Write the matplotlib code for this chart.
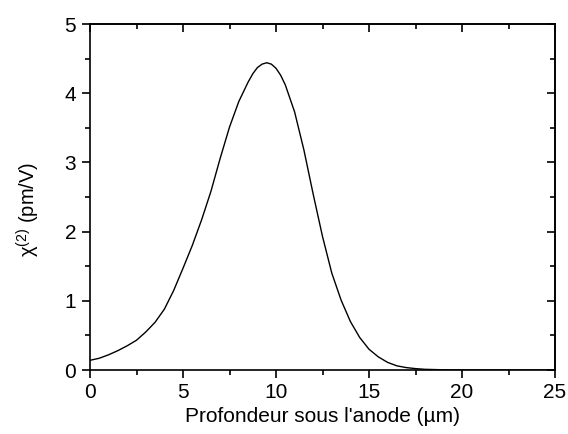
import numpy as np
import matplotlib
matplotlib.use('Agg')
import matplotlib.pyplot as plt
from matplotlib.ticker import MultipleLocator

# values
depth = [0.0, 0.5, 1.0, 1.5, 2.0, 2.5, 3.0, 3.5, 4.0, 4.5,
         5.0, 5.5, 6.0, 6.5, 7.0, 7.5, 8.0, 8.5, 8.75, 9.0, 9.25, 9.5,
         9.75, 10.0, 10.25, 10.5, 11.0, 11.5, 12.0, 12.5, 13.0, 13.5, 14.0, 14.5,
         15.0, 15.5, 16.0, 16.5, 17.0, 17.5, 18.0, 19.0, 20.0, 22.5, 25.0]
chi2 = [0.14, 0.17, 0.22, 0.28, 0.35, 0.43, 0.55, 0.69, 0.88, 1.15,
        1.47, 1.80, 2.17, 2.58, 3.06, 3.51, 3.88, 4.16, 4.28, 4.37, 4.42, 4.44,
        4.42, 4.36, 4.26, 4.12, 3.73, 3.18, 2.54, 1.93, 1.40, 1.01, 0.70, 0.47,
        0.30, 0.19, 0.11, 0.06, 0.035, 0.02, 0.01, 0.003, 0.0, 0.0, 0.0]

x_ticks = [0, 5, 10, 15, 20, 25]
y_ticks = [0, 1, 2, 3, 4, 5]

plt.rcParams['font.family'] = ['Liberation Sans', 'DejaVu Sans']
plt.rcParams['mathtext.fontset'] = 'custom'
plt.rcParams['mathtext.rm'] = 'Liberation Sans'

fig = plt.figure(figsize=(5.68, 4.34), dpi=100)
ax = fig.add_axes([90 / 568, 64 / 434, 465 / 568, 346 / 434])

ax.plot(depth, chi2, color='black', linewidth=1.0, solid_joinstyle='round')

ax.set_xlim(0, 25)
ax.set_ylim(0, 5)
ax.set_xticks(x_ticks)
ax.set_yticks(y_ticks)
ax.xaxis.set_minor_locator(MultipleLocator(2.5))
ax.yaxis.set_minor_locator(MultipleLocator(0.5))

for side in ax.spines.values():
    side.set_linewidth(1.2)

# outward ticks on left/bottom, inward ticks on top/right (Origin style)
ax.tick_params(which='major', direction='out', length=6, width=1.2,
               labelsize=15, pad=3)
ax.tick_params(axis='y', which='major', pad=4)
ax.tick_params(which='minor', direction='out', length=3.5, width=1.2)

ax_top = ax.secondary_xaxis('top')
ax_top.set_xticks(x_ticks)
ax_top.xaxis.set_minor_locator(MultipleLocator(2.5))
ax_top.tick_params(which='major', direction='in', length=6, width=1.2, labeltop=False)
ax_top.tick_params(which='minor', direction='in', length=3.5, width=1.2)
ax_top.spines['top'].set_linewidth(1.2)

ax_right = ax.secondary_yaxis('right')
ax_right.set_yticks(y_ticks)
ax_right.yaxis.set_minor_locator(MultipleLocator(0.5))
ax_right.tick_params(which='major', direction='in', length=6, width=1.2, labelright=False)
ax_right.tick_params(which='minor', direction='in', length=3.5, width=1.2)
ax_right.spines['right'].set_linewidth(1.2)

ax.set_xlabel("Profondeur sous l'anode (µm)", fontsize=15, labelpad=4)
ax.set_ylabel(r"χ$^{\mathrm{(2)}}$ (pm/V)", fontsize=14.5, labelpad=16)
ax.yaxis.label.set_y(0.465)

fig.savefig('out.png', dpi=100)
